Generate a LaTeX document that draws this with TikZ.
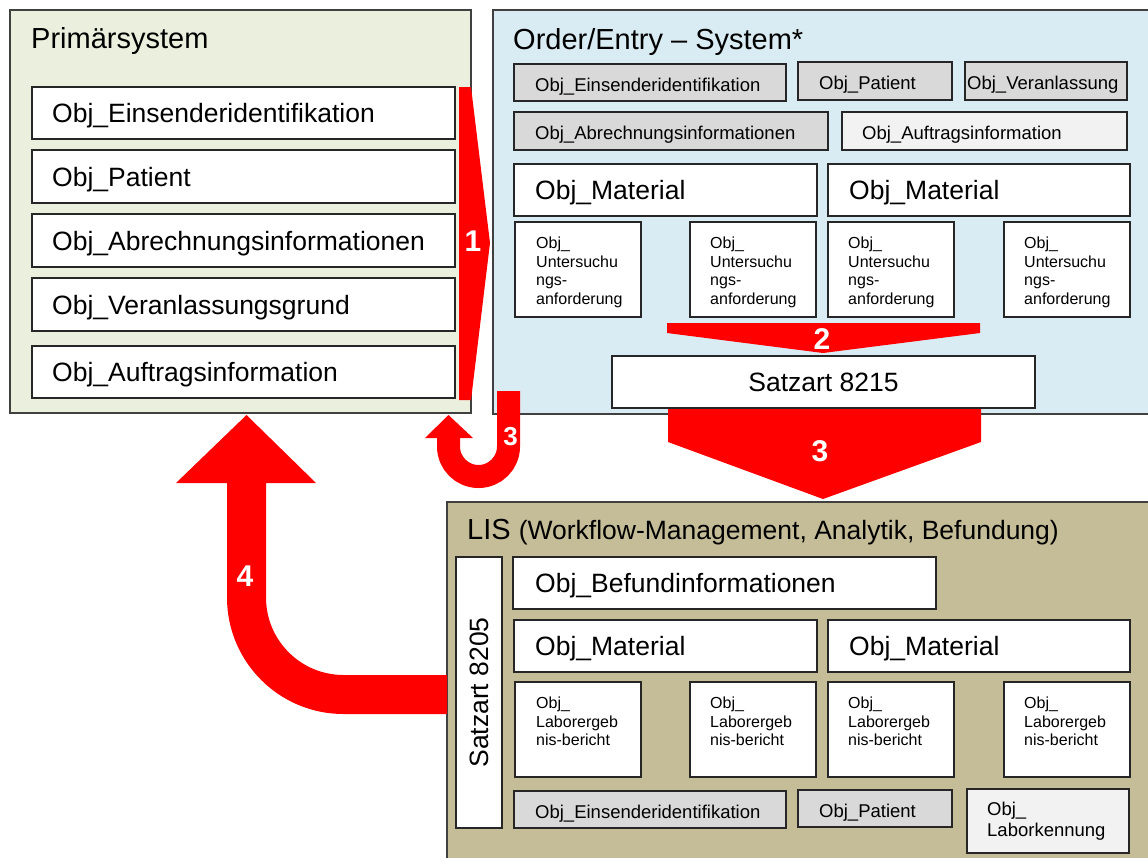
\documentclass[tikz,border=0pt]{standalone}
\usepackage{fontspec}
\setmainfont{Liberation Sans}
\definecolor{primgreen}{HTML}{EBF0DE}
\definecolor{oeblue}{HTML}{DAECF3}
\definecolor{listan}{HTML}{C4BD97}
\definecolor{boxgray}{HTML}{D9D9D9}
\definecolor{boxlight}{HTML}{F2F2F2}
\definecolor{panelline}{HTML}{404040}
\definecolor{boxline}{HTML}{262626}
\definecolor{arrowred}{HTML}{FF0000}
\begin{document}
\begin{tikzpicture}[x=1pt,y=-1pt,
    panel/.style={draw=panelline,line width=1.5pt,anchor=north west,inner sep=0pt,outer sep=0pt},
    box/.style={draw=boxline,line width=1.2pt,fill=white,anchor=north west,inner sep=0pt,outer sep=0pt},
    graybox/.style={box,fill=boxgray},
    lightbox/.style={box,fill=boxlight},
    title/.style={font=\fontsize{29}{34}\selectfont,anchor=base west,inner sep=0pt},
    big/.style={font=\fontsize{26.5}{31}\selectfont,anchor=base west,inner sep=0pt,yshift=-9.5pt},
    small/.style={font=\fontsize{18.5}{22}\selectfont,anchor=base west,inner sep=0pt,yshift=-6.6pt},
    tiny/.style={font=\fontsize{16}{18.5}\selectfont,anchor=north west,inner sep=0pt,align=left},
    num/.style={font=\fontsize{30}{30}\selectfont\bfseries,text=white,inner sep=0pt},
    redfill/.style={fill=arrowred,draw=none},
    redpipe/.style={draw=arrowred,line cap=butt}]
    \useasboundingbox (0,0) rectangle (1148,857);

    \node[panel,fill=primgreen,minimum width=461,minimum height=403] (prim) at (10,10) {};
    \node[title] (prim-t) at (31,48) {Primärsystem};
    \node[box,minimum width=423,minimum height=52] (p1) at (32,87) {};
    \node[box,minimum width=423,minimum height=53] (p2) at (32,150) {};
    \node[box,minimum width=423,minimum height=53] (p3) at (32,214) {};
    \node[box,minimum width=423,minimum height=53] (p4) at (32,278) {};
    \node[box,minimum width=423,minimum height=52] (p5) at (32,346) {};
    \node[big] (p1-t) at ([xshift=20pt]p1.west) {Obj\_Einsenderidentifikation};
    \node[big] (p2-t) at ([xshift=20pt]p2.west) {Obj\_Patient};
    \node[big] (p3-t) at ([xshift=20pt]p3.west) {Obj\_Abrechnungsinformationen};
    \node[big] (p4-t) at ([xshift=20pt]p4.west) {Obj\_Veranlassungsgrund};
    \node[big] (p5-t) at ([xshift=20pt]p5.west) {Obj\_Auftragsinformation};

    \node[panel,fill=oeblue,minimum width=660,minimum height=404] (oe) at (493,10) {};
    \node[title] (oe-t) at (513,49) {Order/Entry -- System*};
    \node[graybox,minimum width=272,minimum height=37] (o1) at (514,64) {};
    \node[graybox,minimum width=154,minimum height=38] (o2) at (798,62) {};
    \node[graybox,minimum width=162,minimum height=38] (o3) at (965,62) {};
    \node[graybox,minimum width=314,minimum height=38] (o4) at (514,112) {};
    \node[lightbox,minimum width=285,minimum height=38] (o5) at (842,112) {};
    \node[small,yshift=-2pt] (o1-t) at ([xshift=21pt]o1.west) {Obj\_Einsenderidentifikation};
    \node[small,yshift=-2pt] (o2-t) at ([xshift=21pt]o2.west) {Obj\_Patient};
    \node[small,yshift=-2pt] (o3-t) at ([xshift=2pt]o3.west) {Obj\_Veranlassung};
    \node[small,yshift=-2pt] (o4-t) at ([xshift=21pt]o4.west) {Obj\_Abrechnungsinformationen};
    \node[small,yshift=-2pt] (o5-t) at ([xshift=20pt]o5.west) {Obj\_Auftragsinformation};
    \node[box,minimum width=303,minimum height=52] (om1) at (514,164) {};
    \node[box,minimum width=302,minimum height=52] (om2) at (828,164) {};
    \node[big] (om1-t) at ([xshift=21pt]om1.west) {Obj\_Material};
    \node[big] (om2-t) at ([xshift=21pt]om2.west) {Obj\_Material};
    \node[box,minimum width=126,minimum height=95] (u1) at (515,222) {};
    \node[box,minimum width=126,minimum height=95] (u2) at (690,222) {};
    \node[box,minimum width=126,minimum height=95] (u3) at (828,222) {};
    \node[box,minimum width=126,minimum height=95] (u4) at (1004,222) {};
    \node[tiny] (u1-t) at ([xshift=21pt,yshift=-15pt]u1.north west) {Obj\_\\Untersuchu\\ngs-\\anforderung};
    \node[tiny] (u2-t) at ([xshift=20pt,yshift=-15pt]u2.north west) {Obj\_\\Untersuchu\\ngs-\\anforderung};
    \node[tiny] (u3-t) at ([xshift=20pt,yshift=-15pt]u3.north west) {Obj\_\\Untersuchu\\ngs-\\anforderung};
    \node[tiny] (u4-t) at ([xshift=20pt,yshift=-15pt]u4.north west) {Obj\_\\Untersuchu\\ngs-\\anforderung};
    \node[box,minimum width=423,minimum height=52] (s8215) at (612,356) {};
    \node[big,anchor=base] (s8215-t) at (s8215.center) {Satzart 8215};

    \node[panel,fill=listan,minimum width=705,minimum height=360] (lis) at (447,502) {};
    \node[title] (lis-t) at (467,539) {LIS {\fontsize{26.5}{31}\selectfont (Workflow-Management, Analytik, Befundung)}};
    \node[box,minimum width=46,minimum height=271] (s8205) at (456,557) {};
    \node[font=\fontsize{26.5}{31}\selectfont,rotate=90,inner sep=0pt] (s8205-t) at (s8205.center) {Satzart 8205};
    \node[box,minimum width=423,minimum height=52] (befund) at (513,557) {};
    \node[big] (befund-t) at ([xshift=22pt]befund.west) {Obj\_Befundinformationen};
    \node[box,minimum width=303,minimum height=52] (lm1) at (514,620) {};
    \node[box,minimum width=302,minimum height=52] (lm2) at (828,620) {};
    \node[big] (lm1-t) at ([xshift=21pt]lm1.west) {Obj\_Material};
    \node[big] (lm2-t) at ([xshift=21pt]lm2.west) {Obj\_Material};
    \node[box,minimum width=126,minimum height=95] (e1) at (515,682) {};
    \node[box,minimum width=126,minimum height=95] (e2) at (690,682) {};
    \node[box,minimum width=126,minimum height=95] (e3) at (828,682) {};
    \node[box,minimum width=126,minimum height=95] (e4) at (1004,682) {};
    \node[tiny] (e1-t) at ([xshift=21pt,yshift=-15pt]e1.north west) {Obj\_\\Laborergeb\\nis-bericht};
    \node[tiny] (e2-t) at ([xshift=20pt,yshift=-15pt]e2.north west) {Obj\_\\Laborergeb\\nis-bericht};
    \node[tiny] (e3-t) at ([xshift=20pt,yshift=-15pt]e3.north west) {Obj\_\\Laborergeb\\nis-bericht};
    \node[tiny] (e4-t) at ([xshift=20pt,yshift=-15pt]e4.north west) {Obj\_\\Laborergeb\\nis-bericht};
    \node[graybox,minimum width=272,minimum height=37] (l1) at (514,791) {};
    \node[graybox,minimum width=154,minimum height=37] (l2) at (798,790) {};
    \node[lightbox,minimum width=162,minimum height=64] (l3) at (967,789) {};
    \node[small,yshift=-2pt] (l1-t) at ([xshift=21pt]l1.west) {Obj\_Einsenderidentifikation};
    \node[small,yshift=-2pt] (l2-t) at ([xshift=21pt]l2.west) {Obj\_Patient};
    \node[font=\fontsize{18.5}{20.5}\selectfont,anchor=west,inner sep=0pt,align=left] (l3-t) at ([xshift=20pt]l3.west) {Obj\_\\Laborkennung};

    \fill[redfill] (459,87) -- (471,87) -- (490,243) -- (471,400) -- (459,400) -- cycle;
    \node[num] (n1) at (473,241) {1};
    \fill[redfill] (667,323) -- (980,323) -- (980,333) -- (823,353) -- (667,333) -- cycle;
    \node[num] (n2) at (822,339) {2};
    \fill[redfill] (668,409) -- (981,409) -- (981,442) -- (823,499) -- (668,442) -- cycle;
    \node[num] (n3) at (820,451) {3};
    \draw[redpipe,line width=23pt,rounded corners=30pt] (508.5,391) -- (508.5,476.5) -- (448.5,476.5) -- (448.5,437);
    \fill[redfill] (425,438) -- (473,438) -- (448.5,415) -- cycle;
    \node[num,font=\fontsize{26}{26}\selectfont\bfseries] (n3b) at (510.5,437) {3};
    \draw[redpipe,line width=39pt,rounded corners=97pt] (447,694.5) -- (246.5,694.5) -- (246.5,482);
    \fill[redfill] (176,483) -- (316,483) -- (246.5,415) -- cycle;
    \node[num] (n4) at (245,576) {4};
\end{tikzpicture}
\end{document}
